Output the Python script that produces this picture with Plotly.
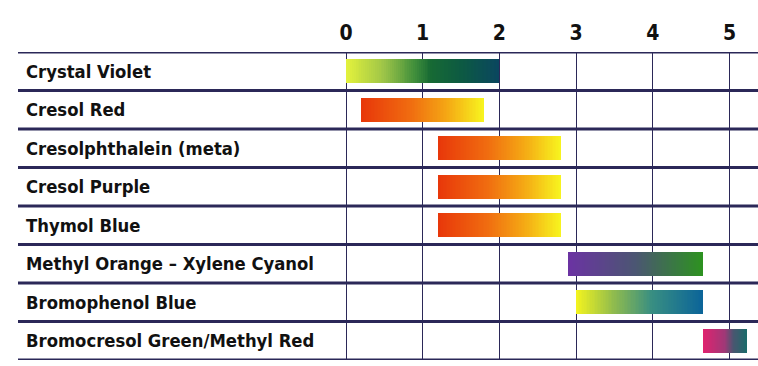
import plotly.graph_objects as go

# ---- data ----
indicators = [
    "Crystal Violet",
    "Cresol Red",
    "Cresolphthalein (meta)",
    "Cresol Purple",
    "Thymol Blue",
    "Methyl Orange \u2013 Xylene Cyanol",
    "Bromophenol Blue",
    "Bromocresol Green/Methyl Red",
]
ph_low = [0.0, 0.2, 1.2, 1.2, 1.2, 2.9, 3.0, 4.65]
ph_high = [2.0, 1.8, 2.8, 2.8, 2.8, 4.65, 4.65, 5.22]
ph_ticks = [0, 1, 2, 3, 4, 5]

red_yellow = [(0, "#e8370a"), (0.4, "#f06c10"), (0.7, "#f5a814"), (1, "#f7f51f")]
gradients = [
    [(0, "#e4f23c"), (0.25, "#9cc448"), (0.45, "#3f8e3b"), (0.55, "#176a34"), (0.75, "#0d5a42"), (1, "#0a4660")],
    red_yellow,
    red_yellow,
    red_yellow,
    red_yellow,
    [(0, "#6b33a3"), (0.5, "#4b5672"), (1, "#2d9220")],
    [(0, "#f4f41e"), (0.3, "#8fbb4e"), (0.6, "#388e82"), (1, "#0b6499")],
    [(0, "#e2226f"), (0.5, "#a03877"), (0.7, "#4a5670"), (1, "#1c6a6a")],
]

LINE = "#2b2858"
TEXT = "#111111"
FONT = "DejaVu Sans Condensed, DejaVu Sans"


def hex2rgb(h):
    h = h.lstrip("#")
    return tuple(int(h[i:i + 2], 16) for i in (0, 2, 4))


def interp(stops, t):
    for (t0, c0), (t1, c1) in zip(stops[:-1], stops[1:]):
        if t <= t1:
            f = 0 if t1 == t0 else (t - t0) / (t1 - t0)
            a, b = hex2rgb(c0), hex2rgb(c1)
            return "rgb(%d,%d,%d)" % tuple(round(a[i] + (b[i] - a[i]) * f) for i in range(3))
    return stops[-1][1]


N = 80
fig = go.Figure()
for name, lo, hi, stops in zip(indicators, ph_low, ph_high, gradients):
    bases, lens, cols = [], [], []
    for k in range(N):
        b = lo + (hi - lo) * k / N
        bases.append(b)
        lens.append(hi - b)
        cols.append(interp(stops, (k + 0.5) / N))
    fig.add_trace(go.Bar(
        y=[name] * N, x=lens, base=bases, orientation="h",
        marker=dict(color=cols, line=dict(width=0)),
        width=0.62, showlegend=False, hoverinfo="skip",
    ))

# row labels
PLOT_W = 758 - 346
for name in indicators:
    fig.add_annotation(
        x=(24 - 346) / PLOT_W, xref="paper", y=name, yref="y",
        text=name, showarrow=False, xanchor="left", yanchor="middle",
        font=dict(family=FONT, size=18.3, color=TEXT, weight="bold"),
    )

# horizontal row lines
for i in range(len(indicators) + 1):
    fig.add_shape(
        type="line", xref="paper", yref="y",
        x0=(18 - 346) / PLOT_W, x1=1, y0=i - 0.5, y1=i - 0.5,
        line=dict(color=LINE, width=3),
    )

fig.update_layout(
    width=758, height=366,
    margin=dict(l=346, r=0, t=52, b=6),
    plot_bgcolor="white", paper_bgcolor="white",
    barmode="overlay", bargap=0,
    xaxis=dict(
        side="top", range=[0, PLOT_W / 76.7], tickvals=ph_ticks,
        showgrid=True, gridcolor=LINE, gridwidth=1.3,
        zeroline=True, zerolinecolor=LINE, zerolinewidth=1.3,
        showline=False, ticks="", ticklabelstandoff=7,
        tickfont=dict(family=FONT, size=21, color=TEXT, weight="bold"),
        fixedrange=True,
    ),
    yaxis=dict(
        categoryorder="array", categoryarray=indicators,
        showticklabels=False, showgrid=False, zeroline=False, showline=False,
        fixedrange=True,
    ),
)
fig.update_yaxes(range=[len(indicators) - 0.5, -0.5], autorange=False)

fig.write_html(
    "out.html",
    config={"displayModeBar": False},
    post_script="document.body.style.margin='0';document.body.style.padding='0';",
)
